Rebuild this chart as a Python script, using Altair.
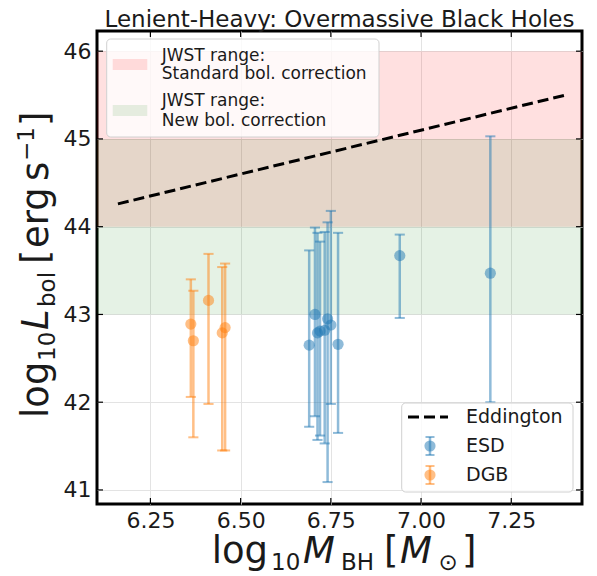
import altair as alt
import pandas as pd

# ---------------- data ----------------
esd_mbh = [6.690, 6.706, 6.713, 6.720, 6.733, 6.741, 6.750, 6.770, 6.941, 7.192]
esd_lbol = [42.65, 43.00, 42.79, 42.81, 42.82, 42.95, 42.88, 42.66, 43.67, 43.47]
esd_lo = [41.72, 41.84, 41.57, 41.62, 41.53, 41.09, 41.98, 41.65, 42.96, 42.00]
esd_hi = [43.73, 43.99, 43.93, 43.83, 43.94, 44.05, 44.18, 43.93, 43.91, 45.03]

dgb_mbh = [6.362, 6.369, 6.411, 6.449, 6.457]
dgb_lbol = [42.89, 42.70, 43.16, 42.79, 42.85]
dgb_lo = [42.06, 41.60, 41.98, 41.45, 41.45]
dgb_hi = [43.40, 43.27, 43.69, 43.54, 43.58]

edd_mbh = [6.16, 7.40]
edd_lbol = [44.26, 45.50]

band_names = ["Standard", "New"]
band_lo = [44, 43]
band_hi = [46, 45]
band_colors = ["#ff0000", "#008000"]
band_alpha = [0.12, 0.10]

x_ticks = [6.25, 6.50, 6.75, 7.00, 7.25]
y_ticks = [41, 42, 43, 44, 45, 46]

# ---------------- tables ----------------
esd = pd.DataFrame({"m": esd_mbh, "l": esd_lbol, "lo": esd_lo, "hi": esd_hi})
dgb = pd.DataFrame({"m": dgb_mbh, "l": dgb_lbol, "lo": dgb_lo, "hi": dgb_hi})
edd = pd.DataFrame({"m": edd_mbh, "l": edd_lbol})
xt = pd.DataFrame({"t": x_ticks})
yt = pd.DataFrame({"t": y_ticks})
one = pd.DataFrame({"a": [0]})

W, H = 485, 473
FONT = "DejaVu Sans"
BLUE, ORANGE = "#1f77b4", "#ff7f0e"

xscale = alt.Scale(domain=[6.102, 7.446], nice=False, zero=False)
yscale = alt.Scale(domain=[40.84, 46.23], nice=False, zero=False)
xaxis = alt.Axis(values=x_ticks, format=".2f", title=None, labelFontSize=22, labelFont=FONT,
                 labelColor="#1a1a1a", domain=False, ticks=False, tickSize=0, labelPadding=6,
                 grid=True, gridColor="#e3e3e3", gridWidth=1)
yaxis = alt.Axis(values=y_ticks, format="d", title=None, labelFontSize=22, labelFont=FONT,
                 labelColor="#1a1a1a", domain=False, ticks=False, tickSize=0, labelPadding=6,
                 grid=True, gridColor="#e3e3e3", gridWidth=1)

X = lambda f: alt.X(f, type="quantitative", scale=xscale, axis=xaxis)
Y = lambda f: alt.Y(f, type="quantitative", scale=yscale, axis=yaxis)

band_layers = []
for i in range(len(band_names)):
    bdf = pd.DataFrame({"lo": [band_lo[i]], "hi": [band_hi[i]]})
    band_layers.append(
        alt.Chart(bdf).mark_rect(color=band_colors[i], opacity=band_alpha[i]).encode(
            x=alt.value(0), x2=alt.value(W), y=Y("lo"), y2="hi"))

edd_layer = alt.Chart(edd).mark_line(color="black", strokeWidth=3, strokeDash=[11, 5]).encode(
    x=X("m"), y=Y("l"))


def series(df, color):
    bars = alt.Chart(df).mark_rule(strokeWidth=2.5, opacity=0.5, color=color).encode(
        x=X("m"), y=Y("lo"), y2="hi")
    cb = alt.Chart(df).transform_calculate(xl="datum.m - 0.014", xr="datum.m + 0.014")
    clo = cb.mark_rule(strokeWidth=2, opacity=0.5, color=color).encode(x=X("xl"), x2="xr", y=Y("lo"))
    chi = cb.mark_rule(strokeWidth=2, opacity=0.5, color=color).encode(x=X("xl"), x2="xr", y=Y("hi"))
    dots = alt.Chart(df).mark_circle(size=125, opacity=0.5, color=color).encode(x=X("m"), y=Y("l"))
    return [bars, clo, chi, dots]


TL = 6
ticks = [
    alt.Chart(xt).mark_rule(color="black", strokeWidth=1.2).encode(x=X("t"), y=alt.value(H), y2=alt.value(H - TL)),
    alt.Chart(xt).mark_rule(color="black", strokeWidth=1.2).encode(x=X("t"), y=alt.value(0), y2=alt.value(TL)),
    alt.Chart(yt).mark_rule(color="black", strokeWidth=1.2).encode(y=Y("t"), x=alt.value(0), x2=alt.value(TL)),
    alt.Chart(yt).mark_rule(color="black", strokeWidth=1.2).encode(y=Y("t"), x=alt.value(W), x2=alt.value(W - TL)),
]


def txt(s, x, y, size, align="left", baseline="alphabetic", angle=0, style="normal", color="#1a1a1a"):
    kw = dict(text=s, align=align, baseline=baseline, fontSize=size, font=FONT, color=color,
              fontStyle=style)
    if angle:
        kw["angle"] = angle
    return alt.Chart(one).mark_text(**kw).encode(x=alt.value(x), y=alt.value(y))


def box(x1, y1, x2, y2, **kw):
    return alt.Chart(one).mark_rect(**kw).encode(
        x=alt.value(x1), x2=alt.value(x2), y=alt.value(y1), y2=alt.value(y2))


def seg(x1, y1, x2, y2, **kw):
    return alt.Chart(one).mark_rule(**kw).encode(
        x=alt.value(x1), x2=alt.value(x2), y=alt.value(y1), y2=alt.value(y2))


# top-left legend
leg1 = [
    box(9.7, 8, 282, 106, fill="white", fillOpacity=0.8, stroke="#d0d0d0", strokeWidth=1, cornerRadius=4),
    box(15.7, 28, 50.3, 39, fill=band_colors[0], fillOpacity=band_alpha[0]),
    box(15.7, 74, 50.3, 85, fill=band_colors[1], fillOpacity=band_alpha[1]),
    txt("JWST range:", 64.7, 29.7, 17),
    txt("Standard bol. correction", 64.7, 48.3, 17),
    txt("JWST range:", 64.7, 75, 17),
    txt("New bol. correction", 64.7, 94.5, 17),
]


def leg_err(y, color):
    return [
        seg(333, y - 9, 333, y + 9, color=color, strokeWidth=2.5, opacity=0.5),
        seg(328.5, y - 9, 337.5, y - 9, color=color, strokeWidth=2, opacity=0.5),
        seg(328.5, y + 9, 337.5, y + 9, color=color, strokeWidth=2, opacity=0.5),
        alt.Chart(one).mark_circle(size=125, opacity=0.5, color=color).encode(x=alt.value(333), y=alt.value(y)),
    ]


# bottom-right legend
leg2 = [
    box(304.7, 372, 476, 461, fill="white", fillOpacity=0.8, stroke="#d0d0d0", strokeWidth=1, cornerRadius=4),
    seg(311, 386, 351, 386, color="black", strokeWidth=3, strokeDash=[11, 5]),
    *leg_err(415, BLUE),
    *leg_err(444, ORANGE),
    txt("Eddington", 369, 386, 19, baseline="middle"),
    txt("ESD", 369, 415, 19, baseline="middle"),
    txt("DGB", 369, 444, 19, baseline="middle"),
]

# title
title = [txt("Lenient-Heavy: Overmassive Black Holes", W / 2, -4, 23, align="center")]

# x-axis label pieces (baseline relative to plot origin)
XB, XS = 532, 539
xlab = [
    txt("log", 114.7, XB, 37),
    txt("10", 174, XS, 23),
    txt("M", 206, XB, 37, style="italic"),
    txt("BH", 244, XS, 23),
    txt("[", 287, XB, 37),
    txt("M", 303, XB, 37, style="italic"),
    txt("\u2299", 341.5, XS, 23),
    txt("]", 365, XB, 37),
]

# y-axis label pieces (rotated, reading upward)
YB, YS, YP = -49, -42, -63
D = 31 - 5
ylab = [
    txt("log", YB, 413 - D, 37, angle=270),
    txt("10", YS, 356 - D, 23, angle=270),
    txt("L", YB, 325 - D, 37, angle=270, style="italic"),
    txt("bol", YS, 302 - D, 23, angle=270),
    txt("[", YB, 259 - D, 37, angle=270),
    txt("erg", YB, 243 - D, 37, angle=270),
    txt("s", YB, 176 - D, 37, angle=270),
    txt("\u22121", YP, 156 - D, 23, angle=270),
    txt("]", YB, 121 - D, 37, angle=270),
]

chart = alt.layer(
    *band_layers, edd_layer, *series(esd, BLUE), *series(dgb, ORANGE),
    *ticks, *leg1, *leg2, *title, *xlab, *ylab,
).properties(
    width=W, height=H,
    padding={"left": 89, "top": 23, "right": 5, "bottom": 70},
    autosize=alt.AutoSizeParams(type="none"),
).configure_view(
    stroke="black", strokeWidth=3
)

chart.save("out.html", embed_options={"renderer": "svg", "actions": False})
